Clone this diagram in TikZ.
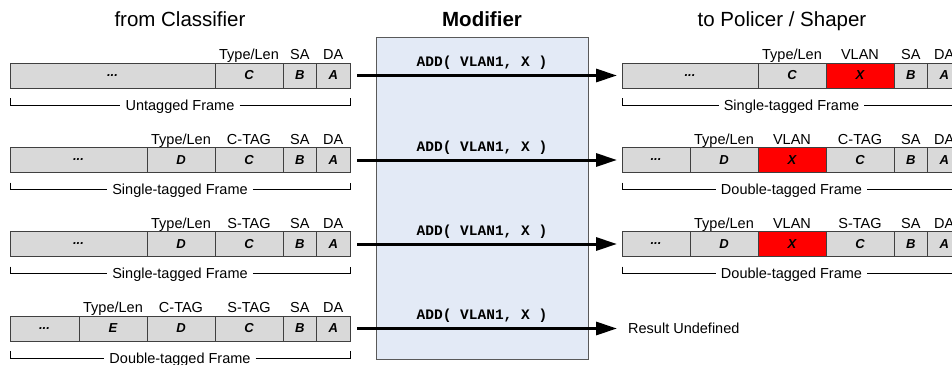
\documentclass[tikz,border=0pt]{standalone}
\usepackage{fontspec}
\setmainfont{Liberation Sans}
\setmonofont{Liberation Mono}
\usetikzlibrary{positioning,arrows.meta}

\definecolor{cellgray}{HTML}{D9D9D9}
\definecolor{tagred}{HTML}{FF0000}
\definecolor{modblue}{HTML}{E3EAF6}
\definecolor{modborder}{HTML}{595959}
\definecolor{linegray}{HTML}{404040}

\tikzset{
  cell/.style = {draw = linegray, line width = 0.9pt, fill = cellgray, minimum height = 25pt,
    inner sep = 0pt, outer sep = 0pt, font = \fontsize{13}{13}\selectfont\bfseries\itshape},
  wide/.style = {cell, minimum width = 68pt},
  narrow/.style = {cell, minimum width = 33.5pt},
  vlan/.style = {wide, fill = tagred},
  field/.style = {inner sep = 0pt, text depth = 3pt, font = \fontsize{14.5}{14.5}\selectfont},
  framename/.style = {inner xsep = 5pt, inner ysep = 0pt, text height = 10.5pt, text depth = 0pt,
    font = \fontsize{14.5}{14.5}\selectfont},
  bracket/.style = {draw = black, line width = 0.8pt},
  heading/.style = {anchor = base, inner sep = 0pt, font = \fontsize{20.5}{20.5}\selectfont},
  op/.style = {inner sep = 0pt, font = \fontsize{14.5}{14.5}\selectfont\ttfamily\bfseries},
  flow/.style = {line width = 3pt, -{Triangle[length = 21pt, width = 13pt]},
    shorten <= 7pt, shorten >= 5pt}
}

\begin{document}
\begin{tikzpicture}[x = 1pt, y = -1pt]

      \useasboundingbox (0, 0) rectangle (952, 364);
      \clip (0, 0) rectangle (952, 364);

      \node[heading] (from) at (180, 27) {from Classifier};
      \node[heading, font = \fontsize{20.5}{20.5}\selectfont\bfseries] (modname) at (482, 27) {Modifier};
      \node[heading] (to) at (782, 27) {to Policer / Shaper};

      \node[draw = modborder, line width = 1pt, fill = modblue, minimum width = 212pt,
        minimum height = 322pt, inner sep = 0pt] (mod) at (482, 198) {};

      % incoming frames
      \node[narrow, anchor = east, label = {[field]above:DA}] (in1-a) at (350, 75.5) {A};
      \node[narrow, left = 0pt of in1-a, label = {[field]above:SA}] (in1-b) {B};
      \node[wide, left = 0pt of in1-b, label = {[field]above:Type/Len}] (in1-c) {C};
      \node[cell, minimum width = 205pt, left = 0pt of in1-c] (in1-r) {...};

      \node[narrow, anchor = east, label = {[field]above:DA}] (in2-a) at (350, 160) {A};
      \node[narrow, left = 0pt of in2-a, label = {[field]above:SA}] (in2-b) {B};
      \node[wide, left = 0pt of in2-b, label = {[field]above:C-TAG}] (in2-c) {C};
      \node[wide, left = 0pt of in2-c, label = {[field]above:Type/Len}] (in2-d) {D};
      \node[cell, minimum width = 137pt, left = 0pt of in2-d] (in2-r) {...};

      \node[narrow, anchor = east, label = {[field]above:DA}] (in3-a) at (350, 244) {A};
      \node[narrow, left = 0pt of in3-a, label = {[field]above:SA}] (in3-b) {B};
      \node[wide, left = 0pt of in3-b, label = {[field]above:S-TAG}] (in3-c) {C};
      \node[wide, left = 0pt of in3-c, label = {[field]above:Type/Len}] (in3-d) {D};
      \node[cell, minimum width = 137pt, left = 0pt of in3-d] (in3-r) {...};

      \node[narrow, anchor = east, label = {[field]above:DA}] (in4-a) at (350, 328.5) {A};
      \node[narrow, left = 0pt of in4-a, label = {[field]above:SA}] (in4-b) {B};
      \node[wide, left = 0pt of in4-b, label = {[field]above:S-TAG}] (in4-c) {C};
      \node[wide, left = 0pt of in4-c, label = {[field]above:C-TAG}] (in4-d) {D};
      \node[wide, left = 0pt of in4-d, label = {[field]above:Type/Len}] (in4-e) {E};
      \node[cell, minimum width = 69pt, left = 0pt of in4-e] (in4-r) {...};

      % outgoing frames
      \node[cell, minimum width = 136pt, anchor = west] (out1-r) at (622, 75.5) {...};
      \node[wide, right = 0pt of out1-r, label = {[field]above:Type/Len}] (out1-c) {C};
      \node[vlan, right = 0pt of out1-c, label = {[field]above:VLAN}] (out1-x) {X};
      \node[narrow, right = 0pt of out1-x, label = {[field]above:SA}] (out1-b) {B};
      \node[narrow, right = 0pt of out1-b, label = {[field]above:DA}] (out1-a) {A};

      \node[cell, minimum width = 68pt, anchor = west] (out2-r) at (622, 160) {...};
      \node[wide, right = 0pt of out2-r, label = {[field]above:Type/Len}] (out2-d) {D};
      \node[vlan, right = 0pt of out2-d, label = {[field]above:VLAN}] (out2-x) {X};
      \node[wide, right = 0pt of out2-x, label = {[field]above:C-TAG}] (out2-c) {C};
      \node[narrow, right = 0pt of out2-c, label = {[field]above:SA}] (out2-b) {B};
      \node[narrow, right = 0pt of out2-b, label = {[field]above:DA}] (out2-a) {A};

      \node[cell, minimum width = 68pt, anchor = west] (out3-r) at (622, 244) {...};
      \node[wide, right = 0pt of out3-r, label = {[field]above:Type/Len}] (out3-d) {D};
      \node[vlan, right = 0pt of out3-d, label = {[field]above:VLAN}] (out3-x) {X};
      \node[wide, right = 0pt of out3-x, label = {[field]above:S-TAG}] (out3-c) {C};
      \node[narrow, right = 0pt of out3-c, label = {[field]above:SA}] (out3-b) {B};
      \node[narrow, right = 0pt of out3-b, label = {[field]above:DA}] (out3-a) {A};

      \node[anchor = west, inner sep = 0pt, font = \fontsize{14.5}{14.5}\selectfont] (res) at (628, 328.5) {Result Undefined};

      % frame brackets
      \node[framename] (fn1) at (180, 105) {Untagged Frame};
      \draw[bracket] ([yshift = -10pt] in1-r.south west) |- (fn1.west);
      \draw[bracket] (fn1.east) -| ([yshift = -10pt] in1-a.south east);
      \node[framename] (fn2) at (180, 189.5) {Single-tagged Frame};
      \draw[bracket] ([yshift = -10pt] in2-r.south west) |- (fn2.west);
      \draw[bracket] (fn2.east) -| ([yshift = -10pt] in2-a.south east);
      \node[framename] (fn3) at (180, 273.5) {Single-tagged Frame};
      \draw[bracket] ([yshift = -10pt] in3-r.south west) |- (fn3.west);
      \draw[bracket] (fn3.east) -| ([yshift = -10pt] in3-a.south east);
      \node[framename] (fn4) at (180, 358) {Double-tagged Frame};
      \draw[bracket] ([yshift = -10pt] in4-r.south west) |- (fn4.west);
      \draw[bracket] (fn4.east) -| ([yshift = -10pt] in4-a.south east);

      \node[framename] (gn1) at (791.5, 105) {Single-tagged Frame};
      \draw[bracket] ([yshift = -10pt] out1-r.south west) |- (gn1.west);
      \draw[bracket] (gn1.east) -| ([yshift = -10pt] out1-a.south east);
      \node[framename] (gn2) at (791.5, 189.5) {Double-tagged Frame};
      \draw[bracket] ([yshift = -10pt] out2-r.south west) |- (gn2.west);
      \draw[bracket] (gn2.east) -| ([yshift = -10pt] out2-a.south east);
      \node[framename] (gn3) at (791.5, 273.5) {Double-tagged Frame};
      \draw[bracket] ([yshift = -10pt] out3-r.south west) |- (gn3.west);
      \draw[bracket] (gn3.east) -| ([yshift = -10pt] out3-a.south east);

      % modifier operations
      \node[op] (op1) at (482, 63) {ADD( VLAN1, X )};
      \node[op] (op2) at (482, 147.5) {ADD( VLAN1, X )};
      \node[op] (op3) at (482, 231.5) {ADD( VLAN1, X )};
      \node[op] (op4) at (482, 316) {ADD( VLAN1, X )};

      \draw[flow] (in1-a) -- (out1-r);
      \draw[flow] (in2-a) -- (out2-r);
      \draw[flow] (in3-a) -- (out3-r);
      \draw[flow, shorten >= 11pt] (in4-a) -- (res);

    \end{tikzpicture}
\end{document}
